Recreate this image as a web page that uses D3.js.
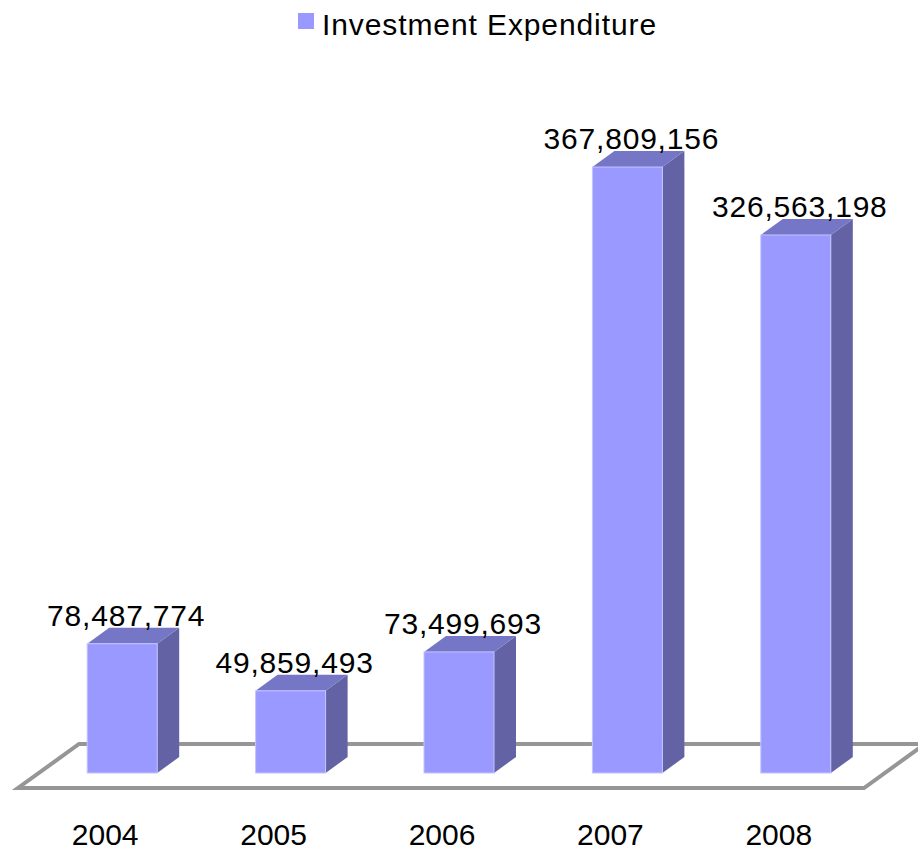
<!DOCTYPE html>
<html>
<head>
<meta charset="utf-8">
<script src="https://cdn.jsdelivr.net/npm/d3@7"></script>
<style>
  html, body { margin: 0; padding: 0; background: #ffffff; }
  svg { display: block; font-family: "Liberation Sans", Arial, sans-serif; }
</style>
</head>
<body>
<svg id="chart" width="918" height="851"></svg>
<script>
// Investment expenditure by year
const years = ["2004", "2005", "2006", "2007", "2008"];
const expenditure = [78487774, 49859493, 73499693, 367809156, 326563198];
const seriesName = "Investment Expenditure";

const W = 918, H = 851;
const svg = d3.select("#chart");

// Layout
const baseY = 773;            // floor line where bar fronts stand
const barW = 70;              // front face width
const depthX = 22, depthY = 16; // bar depth offset
const floorFront = 15, floorBack = 29; // floor extent in front / behind base line
const floorSlope = 61 / 44;   // horizontal shift per vertical pixel of floor depth

const x = d3.scalePoint().domain(years).range([38, 880]).padding(0.5);
const y = d3.scaleLinear().domain([0, 400e6]).range([baseY, 114]);

const colors = { front: "#9999ff", top: "#7676c6", side: "#6262a4", floor: "#969696" };

// Floor
const fy0 = baseY + floorFront, fy1 = baseY - floorBack;
const fLeft = 18, fRight = 864;
const fdx = (fy0 - fy1) * floorSlope;
svg.append("path")
  .attr("d", `M${fLeft},${fy0} L${fRight},${fy0} L${fRight + fdx},${fy1} L${fLeft + fdx},${fy1} Z`)
  .attr("fill", "#ffffff")
  .attr("stroke", colors.floor)
  .attr("stroke-width", 4)
  .attr("stroke-linejoin", "miter");

// Bars
const bars = svg.append("g").selectAll("g")
  .data(years.map((yr, i) => ({ year: yr, value: expenditure[i] })))
  .join("g");

bars.append("path") // side face
  .attr("d", d => {
    const x1 = x(d.year) + barW / 2, top = y(d.value);
    return `M${x1},${baseY} L${x1},${top} L${x1 + depthX},${top - depthY} L${x1 + depthX},${baseY - depthY} Z`;
  })
  .attr("fill", colors.side);

bars.append("path") // top face
  .attr("d", d => {
    const x0 = x(d.year) - barW / 2, top = y(d.value);
    return `M${x0},${top} L${x0 + barW},${top} L${x0 + barW + depthX},${top - depthY} L${x0 + depthX},${top - depthY} Z`;
  })
  .attr("fill", colors.top);

bars.append("rect") // front face
  .attr("x", d => x(d.year) - barW / 2)
  .attr("y", d => y(d.value))
  .attr("width", barW)
  .attr("height", d => baseY - y(d.value))
  .attr("fill", colors.front)
  .attr("stroke", "#c4c4ff")
  .attr("stroke-width", 1);

// Value labels
const fmt = d3.format(",");
bars.append("text")
  .attr("x", d => x(d.year) + 4)
  .attr("y", d => y(d.value) - depthY - 2)
  .attr("text-anchor", "middle")
  .attr("font-size", 30)
  .attr("letter-spacing", 0.8)
  .attr("fill", "#000")
  .text(d => fmt(d.value));

// Category labels
svg.append("g").selectAll("text")
  .data(years)
  .join("text")
  .attr("x", d => x(d) - 17)
  .attr("y", 845)
  .attr("text-anchor", "middle")
  .attr("font-size", 30)
  .attr("fill", "#000")
  .text(d => d);

// Legend
const legend = svg.append("g");
legend.append("rect")
  .attr("x", 298).attr("y", 13).attr("width", 16).attr("height", 16)
  .attr("fill", colors.front);
legend.append("text")
  .attr("x", 322).attr("y", 35)
  .attr("font-size", 30)
  .attr("letter-spacing", 0.9)
  .attr("fill", "#000")
  .text(seriesName);
</script>
</body>
</html>
